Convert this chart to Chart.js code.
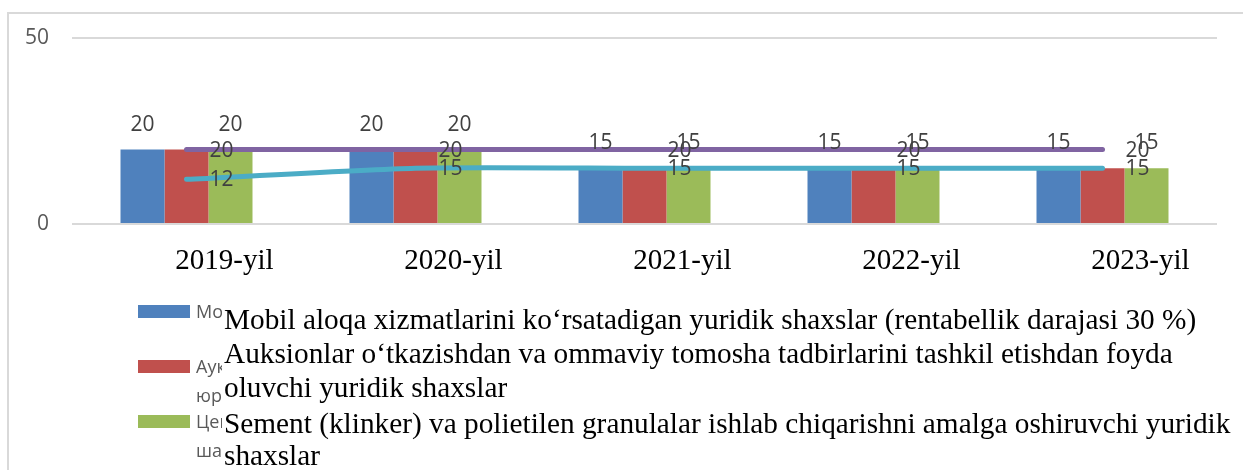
<!DOCTYPE html>
<html>
<head>
<meta charset="utf-8">
<script src="https://cdn.jsdelivr.net/npm/chart.js@4/dist/chart.umd.min.js"></script>
<style>
  html, body { margin: 0; padding: 0; background: #fff; overflow: hidden; }
  #wrap { position: relative; width: 1243px; height: 470px; }
  #ramka { position: absolute; left: 7px; top: 12px; width: 1260px; height: 500px; border: 2px solid #d9d9d9; }
  canvas { position: absolute; left: 0; top: 0; }
</style>
</head>
<body>
<div id="wrap">
  <div id="ramka"></div>
  <canvas id="grafik" width="1243" height="470"></canvas>
</div>
<script>
// Yillar
const yillar = ['2019-yil', '2020-yil', '2021-yil', '2022-yil', '2023-yil'];

// Ustunlar (bar)
const mobilAloqa = [20, 20, 15, 15, 15];
const auksionlar = [20, 20, 15, 15, 15];
const sement = [20, 20, 15, 15, 15];

// Chiziqlar (line)
const chiziqBinafsha = [20, 20, 20, 20, 20];
const chiziqMoviy = [12, 15, 15, 15, 15];

// Y o'qi belgilari
const yTicks = [0, 50];

// Legenda matnlari (kirill - ostida qolgan, lotin - ustidagi matn)
const nomlarKirill = [
  ['Мобил алоқа хизматларини кўрсатадиган юридик шахслар (рентабеллик даражаси 30 %)'],
  ['Аукционлар ўтказишдан ва оммавий томоша тадбирларини ташкил этишдан фойда олувчи', 'юридик шахслар'],
  ['Цемент (клинкер) ва полиэтилен гранулалар ишлаб чиқаришни амалга оширувчи юридик', 'шахслар']
];
const nomlarLotin = [
  ['Mobil aloqa xizmatlarini ko‘rsatadigan yuridik shaxslar (rentabellik darajasi 30 %)'],
  ['Auksionlar o‘tkazishdan va ommaviy tomosha tadbirlarini tashkil etishdan foyda', 'oluvchi yuridik shaxslar'],
  ['Sement (klinker) va polietilen granulalar ishlab chiqarishni amalga oshiruvchi yuridik', 'shaxslar']
];

const ranglar = ['#4F81BD', '#C0504D', '#9BBB59'];

// qiymat yorliqlari va legenda
const yorliqlar = {
  id: 'yorliqlar',
  afterDraw(chart) {
    const ctx = chart.ctx;
    ctx.save();
    ctx.font = '21px "Open Sans"';
    ctx.fillStyle = '#404040';
    ctx.textBaseline = 'middle';
    chart.data.datasets.forEach((ds, i) => {
      if (!ds.yorliq) return;
      const meta = chart.getDatasetMeta(i);
      meta.data.forEach((el, j) => {
        const v = ds.data[j];
        if (ds.type === 'line') {
          ctx.textAlign = 'left';
          ctx.fillText(v, el.x + 23, el.y + 1);
        } else {
          ctx.textAlign = 'center';
          ctx.fillText(v, el.x, el.y - 25);
        }
      });
    });

    // Legenda
    const baseY = [318, 373, 428];
    ctx.textAlign = 'left';
    ctx.textBaseline = 'alphabetic';
    for (let k = 0; k < 3; k++) {
      ctx.fillStyle = ranglar[k];
      ctx.fillRect(138, baseY[k] - 13, 52, 13);

      ctx.save();
      ctx.beginPath();
      ctx.rect(190, baseY[k] - 20, 32, 70);
      ctx.clip();
      ctx.fillStyle = '#595959';
      ctx.font = '18px "Open Sans"';
      nomlarKirill[k].forEach((s, n) => ctx.fillText(s, 196, baseY[k] + n * 29));
      ctx.restore();
    }

    const lotinY = [[329], [363, 397], [433, 465]];
    ctx.fillStyle = '#000';
    ctx.font = '29.3px "Liberation Serif"';
    nomlarLotin.forEach((qatorlar, k) => {
      qatorlar.forEach((s, n) => ctx.fillText(s, 224, lotinY[k][n]));
    });
    ctx.restore();
  }
};

new Chart(document.getElementById('grafik'), {
  data: {
    labels: yillar,
    datasets: [
      { type: 'line', data: chiziqBinafsha, borderColor: '#8064A2', borderWidth: 5, borderCapStyle: 'round',
        pointRadius: 0, tension: 0, order: 0, yorliq: true },
      { type: 'line', data: chiziqMoviy, borderColor: '#4BACC6', borderWidth: 5, borderCapStyle: 'round',
        pointRadius: 0, tension: 0.2, order: 0, yorliq: true },
      { type: 'bar', label: nomlarLotin[0].join(' '), data: mobilAloqa, backgroundColor: ranglar[0], order: 1, yorliq: true },
      { type: 'bar', label: nomlarLotin[1].join(' '), data: auksionlar, backgroundColor: ranglar[1], order: 1, yorliq: false },
      { type: 'bar', label: nomlarLotin[2].join(' '), data: sement, backgroundColor: ranglar[2], order: 1, yorliq: true }
    ]
  },
  options: {
    responsive: false,
    animation: false,
    datasets: { bar: { categoryPercentage: 0.5764, barPercentage: 1 } },
    layout: { padding: { left: 0, top: 38, right: 26, bottom: 0 } },
    plugins: { legend: { display: false }, tooltip: { enabled: false } },
    scales: {
      x: {
        grid: { display: false },
        border: { display: false },
        ticks: { font: { family: '"Liberation Serif"', size: 29 }, color: '#000', padding: 12, labelOffset: 38, maxRotation: 0 },
        afterFit(s) { s.height = 246; }
      },
      y: {
        min: 0, max: 50,
        afterBuildTicks(s) { s.ticks = yTicks.map(v => ({ value: v })); },
        grid: { color: '#d9d9d9', lineWidth: 2, drawTicks: false },
        border: { display: false },
        ticks: { font: { family: '"Open Sans"', size: 21 }, color: '#595959', padding: 23 },
        afterFit(s) { s.width = 72; }
      }
    }
  },
  plugins: [yorliqlar]
});
</script>
</body>
</html>
